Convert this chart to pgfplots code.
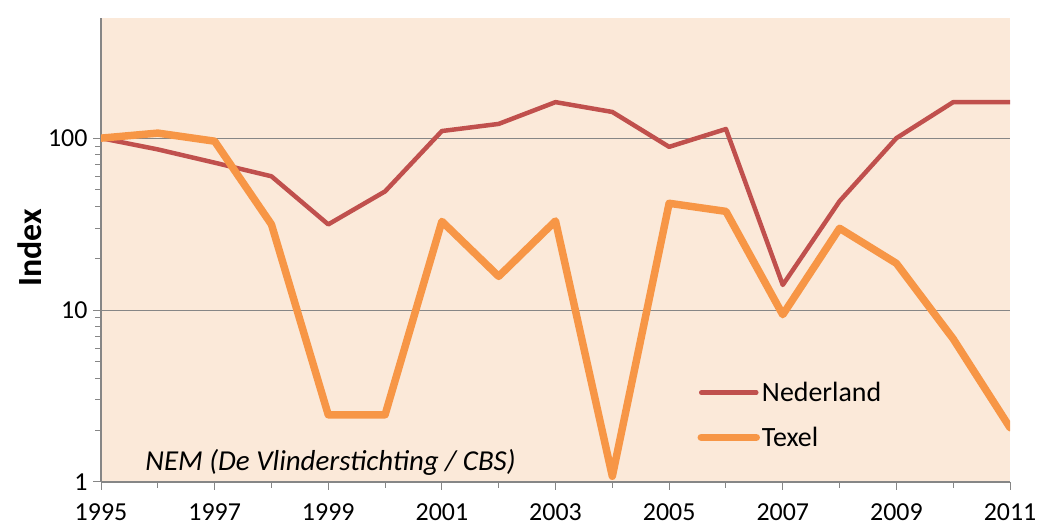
\documentclass[border=0pt]{standalone}
\usepackage{pgfplots}
\pgfplotsset{compat=1.18}
\usepackage{fontspec}
\setmainfont{Carlito}
\definecolor{ned}{HTML}{C0504D}
\definecolor{tex}{HTML}{F79646}
\definecolor{bg}{HTML}{FBE9D9}
\definecolor{ax}{HTML}{868686}
\begin{document}
\begin{tikzpicture}[x=1bp,y=1bp]
\useasboundingbox (0,0) rectangle (1037,528);
\node[rotate=90, font=\fontsize{34}{40}\selectfont\bfseries] at (30bp,280bp) {Index};
\begin{axis}[
  at={(101bp,46bp)}, anchor=south west,
  scale only axis, width=909bp, height=464bp,
  ymode=log, ymin=1, ymax=500,
  xmin=1995, xmax=2011,
  axis x line*=bottom, axis y line*=left,
  axis line style={ax, line width=1.2pt, -},
  axis background/.style={fill=bg},
  tick align=outside,
  major tick length=8bp, minor tick length=6bp,
  every tick/.style={ax, line width=1pt},
  xtick={1995,1997,...,2011},
  minor xtick={1996,1998,...,2010},
  xticklabel style={/pgf/number format/1000 sep=, font=\fontsize{26}{30}\selectfont, yshift=-10bp},
  ytick={1,10,100},
  yticklabels={1,10,100},
  yticklabel style={font=\fontsize{26}{30}\selectfont, xshift=-2bp},
  /pgf/number format/assume math mode=true,
  ymajorgrids, major grid style={ax, line width=1pt},
  legend style={at={(0.656,0.22)}, anchor=north west, draw=none, fill=none,
    font=\fontsize{28}{32}\selectfont, row sep=20bp, legend cell align=left, inner sep=0pt},
  legend image code/.code={\draw[#1, line cap=round] (0bp,0bp) -- (55bp,0bp);},
]
\addplot[ned, line width=4.5pt, line join=round, line cap=round] coordinates {
(1995,100) (1996,86) (1997,72) (1998,60) (1999,31.5) (2000,49) (2001,110) (2002,121) (2003,162) (2004,142) (2005,89) (2006,113) (2007,14) (2008,43) (2009,100) (2010,162) (2011,162)};
\addlegendentry{Nederland}
\addplot[tex, line width=7.5pt, line join=round, line cap=round] coordinates {
(1995,100) (1996,107) (1997,96) (1998,31.5) (1999,2.46) (2000,2.46) (2001,32.8) (2002,15.7) (2003,33) (2004,1.08) (2005,41.8) (2006,37.5) (2007,9.4) (2008,29.9) (2009,18.7) (2010,6.8) (2011,2.07)};
\addlegendentry{Texel}
\node[anchor=base west, font=\fontsize{29}{34}\selectfont\itshape] at (rel axis cs:0.045,0.025) {NEM (De Vlinderstichting / CBS)};
\end{axis}
\end{tikzpicture}
\end{document}
